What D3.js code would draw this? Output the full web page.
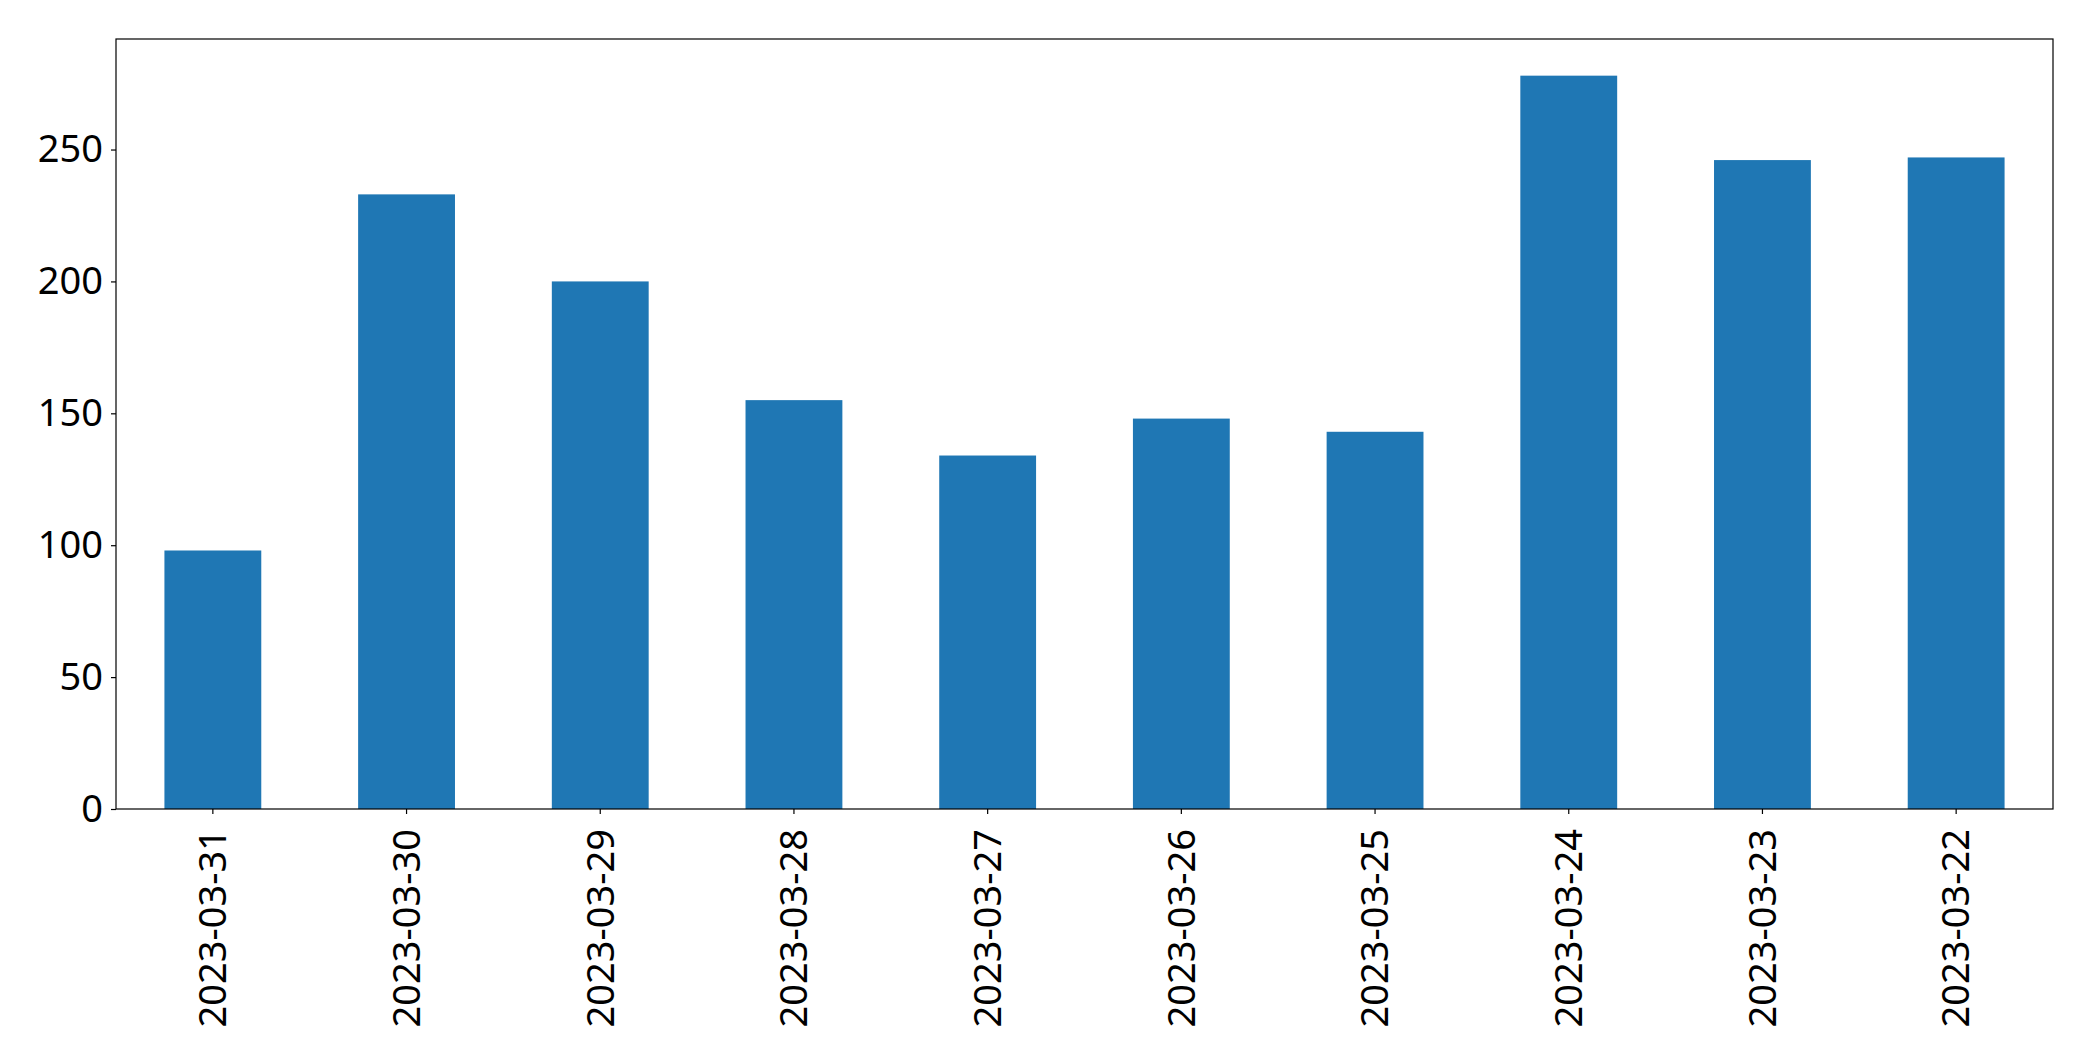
<!DOCTYPE html>
<html>
<head>
<meta charset="utf-8">
<script src="https://cdn.jsdelivr.net/npm/d3@7"></script>
<style>
  body { margin: 0; background: white; }
  text { font-family: "Noto Sans", "Open Sans", sans-serif; }
</style>
</head>
<body>
<div id="chart"></div>
<script>
// Data
const dates = ["2023-03-31", "2023-03-30", "2023-03-29", "2023-03-28", "2023-03-27",
               "2023-03-26", "2023-03-25", "2023-03-24", "2023-03-23", "2023-03-22"];
const counts = [98, 233, 200, 155, 134, 148, 143, 278, 246, 247];
const yTicks = [0, 50, 100, 150, 200, 250];

const W = 2093, H = 1061;
const margin = { top: 39, right: 40, bottom: 252, left: 116 };
const width = W - margin.left - margin.right;
const height = H - margin.top - margin.bottom;

const svg = d3.select("#chart")
    .append("svg")
    .attr("width", W)
    .attr("height", H)
    .append("g")
    .attr("transform", `translate(${margin.left},${margin.top})`);

// Scales
const x = d3.scaleBand()
    .domain(dates)
    .range([0, width])
    .paddingInner(0.5)
    .paddingOuter(0.25);

const y = d3.scaleLinear()
    .domain([0, d3.max(counts) * 1.05])
    .range([height, 0]);

// Bars
svg.selectAll(".bar")
    .data(dates)
    .join("rect")
    .attr("class", "bar")
    .attr("x", d => x(d))
    .attr("width", x.bandwidth())
    .attr("y", (d, i) => y(counts[i]))
    .attr("height", (d, i) => height - y(counts[i]))
    .attr("fill", "#1f77b4");

// Axes
const xAxis = svg.append("g")
    .attr("transform", `translate(0,${height})`)
    .call(d3.axisBottom(x).tickSize(5).tickPadding(8).tickSizeOuter(0));

xAxis.selectAll("text")
    .attr("font-size", "38px")
    .attr("fill", "black")
    .attr("transform", "rotate(-90)")
    .attr("text-anchor", "end")
    .attr("dy", "0.35em")
    .attr("x", -20)
    .attr("y", 0);

const yAxis = svg.append("g")
    .call(d3.axisLeft(y).tickValues(yTicks).tickSize(5).tickPadding(8).tickSizeOuter(0));

yAxis.selectAll("text")
    .attr("font-size", "38px")
    .attr("fill", "black");

svg.selectAll(".domain").remove();
svg.selectAll(".tick line").attr("stroke", "black").attr("stroke-width", 1.2);

// Frame
svg.append("rect")
    .attr("width", width)
    .attr("height", height)
    .attr("fill", "none")
    .attr("stroke", "black")
    .attr("stroke-width", 1.2);
</script>
</body>
</html>
